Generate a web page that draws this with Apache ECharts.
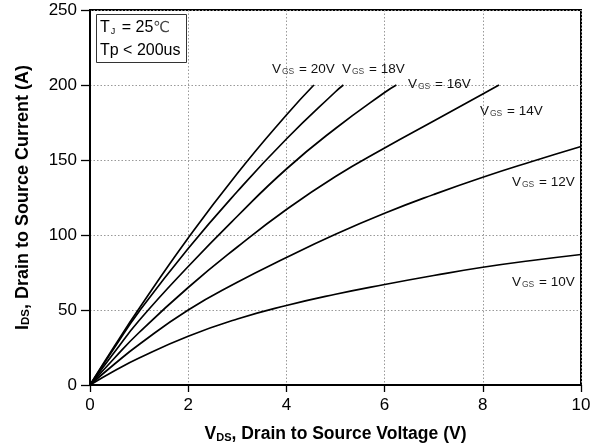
<!DOCTYPE html>
<html><head><meta charset="utf-8">
<script src="https://cdn.jsdelivr.net/npm/echarts@6/dist/echarts.min.js"></script>
<style>html,body{margin:0;padding:0;background:#fff}#c{width:598px;height:448px}</style>
</head><body><div id="c"></div>
<script>
var xTicks = [0, 2, 4, 6, 8, 10];
var yTicks = [0, 50, 100, 150, 200, 250];
var vgs10 = [[0,0],[0.5,9.5],[1,18],[2,32.5],[3,44],[4,53],[5,60.5],[6,67],[7,73],[8,78.5],[9,83],[10,87]];
var vgs12 = [[0,0],[0.5,14],[1,27],[2,50],[3,68.5],[4,85],[5,100.5],[6,114.5],[7,127],[8,138.5],[9,149],[10,159]];
var vgs14 = [[0,0],[0.5,18],[1,35],[2,65],[3,92],[4,117],[5,139],[6,158],[7,176],[8,194],[8.33,200]];
var vgs16 = [[0,0],[0.5,22],[1,43],[2,79],[3,112.5],[4,144],[5,171],[6,195],[6.24,200]];
var vgs18 = [[0,0],[0.5,25],[1,49],[2,91],[3,129],[4,164],[5,195.5],[5.16,200]];
var vgs20 = [[0,0],[0.5,26],[1,51],[2,98],[3,141],[4,180],[4.56,200]];
var seriesNames = ['VGS=10V','VGS=12V','VGS=14V','VGS=16V','VGS=18V','VGS=20V'];
var seriesData = [vgs10, vgs12, vgs14, vgs16, vgs18, vgs20];
var labelTexts = ['10V','12V','14V','16V','18V','20V'];
var labelPos = [[512,285],[512,185],[480,114],[408,87],[342,72],[272,72]];

var font = 'Liberation Sans, Arial, sans-serif';
var chart = echarts.init(document.getElementById('c'));
var series = seriesData.map(function(d, i){
  return {name: seriesNames[i], type:'line', data:d, smooth:0.5, showSymbol:false,
    lineStyle:{color:'#000', width:1.7}, z:3};
});
var graphics = labelPos.map(function(p, i){
  return {type:'text', left:p[0], top:p[1]-10, z:10, style:{
    text:'{v|V}{s|GS}{v| = '+labelTexts[i]+'}', font:'13px '+font,
    rich:{v:{fontSize:13.5, fontFamily:font, fill:'#111', lineHeight:18, verticalAlign:'bottom'},
          s:{fontSize:8.5, fontFamily:font, fill:'#444', lineHeight:18, verticalAlign:'bottom', padding:[0,1,0,1]}}}};
});
graphics.push({type:'rect', left:96, top:14, z:10, shape:{width:90, height:48},
  style:{fill:'#fff', stroke:'#333', lineWidth:1}});
graphics.push({type:'text', left:100, top:20, z:11, style:{
  text:'{t|T}{s|J}{t| = 25}{c|℃}', rich:{
    t:{fontSize:16, fontFamily:font, fill:'#000', lineHeight:20, verticalAlign:'bottom'},
    s:{fontSize:9, fontFamily:font, fill:'#000', lineHeight:20, verticalAlign:'bottom', padding:[0,2,0,1]},
    c:{fontSize:15, fontFamily:'DejaVu Sans, sans-serif', fill:'#444', lineHeight:20, verticalAlign:'bottom'}}}});
graphics.push({type:'text', left:100, top:43, z:11, style:{
  text:'Tp < 200us', fontSize:16, fontFamily:font, fill:'#000'}});

chart.setOption({
  animation:false,
  backgroundColor:'#fff',
  grid:{left:90, right:17, top:10, bottom:61, show:true, borderColor:'#000', borderWidth:2},
  xAxis:{type:'value', min:xTicks[0], max:xTicks[xTicks.length-1], interval:2,
    axisLine:{show:true, onZero:false, lineStyle:{color:'#000', width:2}},
    axisTick:{show:true, length:7, lineStyle:{color:'#000', width:1.3}},
    axisLabel:{color:'#000', fontSize:17, fontFamily:font, margin:12},
    splitLine:{show:true, lineStyle:{color:'#999', type:[1.5,2], width:1}},
    name:'{b|V}{s|DS}{b|, Drain to Source Voltage (V)}', nameLocation:'middle', nameGap:36,
    nameTextStyle:{rich:{
      b:{fontSize:17.5, fontWeight:'bold', fontFamily:font, color:'#000', lineHeight:22, verticalAlign:'bottom'},
      s:{fontSize:11, fontWeight:'bold', fontFamily:font, color:'#000', lineHeight:22, verticalAlign:'bottom'}}}
  },
  yAxis:{type:'value', min:yTicks[0], max:yTicks[yTicks.length-1], interval:50,
    axisLine:{show:true, lineStyle:{color:'#000', width:2}},
    axisTick:{show:true, length:9, lineStyle:{color:'#000', width:1.3}},
    axisLabel:{color:'#000', fontSize:17, fontFamily:font, margin:13},
    splitLine:{show:true, lineStyle:{color:'#999', type:[1.5,2], width:1}},
    name:'{b|I}{s|DS}{b|, Drain to Source Current (A)}', nameLocation:'middle', nameGap:58, nameRotate:90,
    nameTextStyle:{rich:{
      b:{fontSize:18, fontWeight:'bold', fontFamily:font, color:'#000', lineHeight:22, verticalAlign:'bottom'},
      s:{fontSize:11.5, fontWeight:'bold', fontFamily:font, color:'#000', lineHeight:22, verticalAlign:'bottom'}}}
  },
  series: series,
  graphic: graphics
});
</script></body></html>
